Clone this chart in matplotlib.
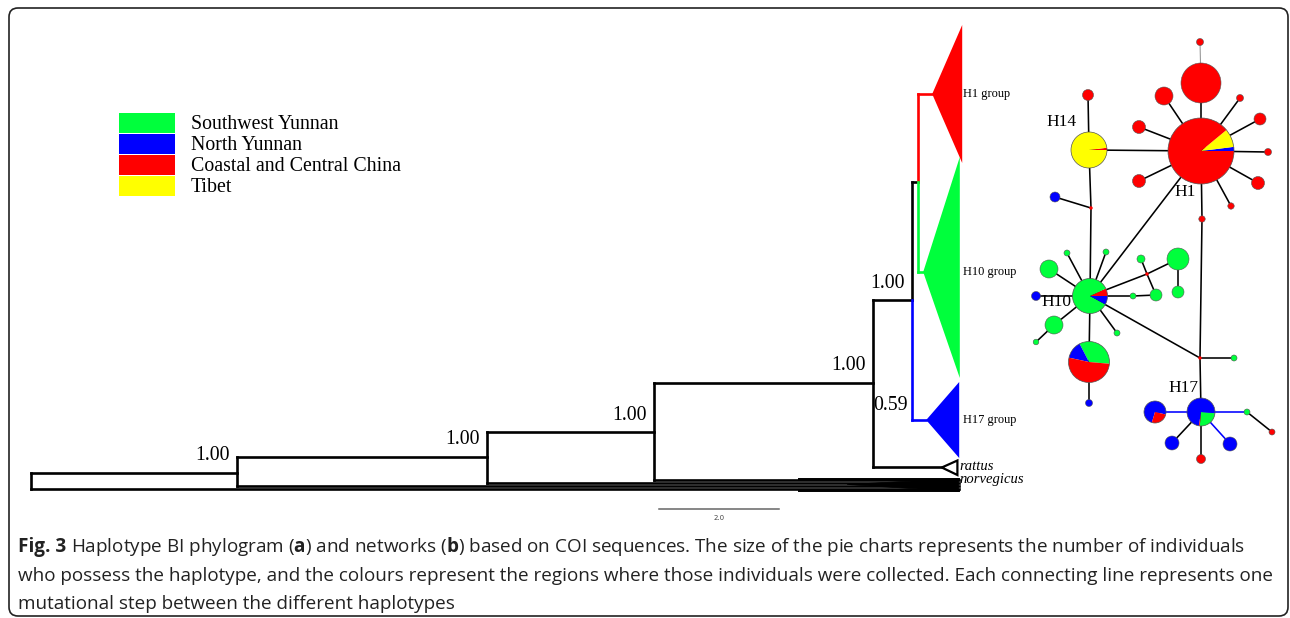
import matplotlib
matplotlib.use("Agg")
import matplotlib.pyplot as plt
from matplotlib.patches import Wedge, Polygon, Rectangle, FancyBboxPatch, Circle

W, H, DPI = 1290, 618, 100

# ---------------- data ----------------
regions = ["Southwest Yunnan", "North Yunnan", "Coastal and Central China", "Tibet"]
region_colors = ["#00FF3C", "#0000FF", "#FF0000", "#FFFF00"]
GREEN, BLUE, RED, YELLOW = region_colors

# Phylogram backbone (branch lengths in substitution units; scale bar = 2.0)
backbone_depth = [0.0, 3.43, 7.60, 10.38, 14.03]          # root .. node before rattus
backbone_top_y = [473, 457, 432, 383, 300]                 # row of upper child
backbone_bot_y = [489, 486, 483, 480, 467]                 # row of lower child
child_depth = [3.43, 7.60, 10.38, 14.03, 14.68]            # depth of upper child node
support = ["1.00", "1.00", "1.00", "1.00", "1.00"]

# ingroup nodes
n5_depth, n5_top, n5_bot = 14.68, 182, 420
n6_depth, n6_top, n6_bot = 14.78, 94, 272
h17_support = "0.59"

# collapsed clades: label, colour, attach row, tip depth, end depth, top, bottom
clade_names = ["H1 group", "H10 group", "H17 group"]
clade_colors = [RED, GREEN, BLUE]
clade_rows = [94, 272, 420]
clade_tip = [15.02, 14.87, 14.92]
clade_end = [15.52, 15.48, 15.47]
clade_top = [25, 157, 382]
clade_bot = [163, 378, 458]

scale_bar_len = 2.0

# Haplotype network: centre, radius, composition (region fractions) and start angle
hap_x = [1201, 1089, 1090, 1089, 1201, 1155]
hap_y = [151, 150, 296, 362, 412, 412]
hap_r = [33, 18, 17.5, 20.5, 14, 11]
hap_label = ["H1", "H14", "H10", "", "H17", ""]
# fractions in order [SW Yunnan, N Yunnan, Coastal/Central, Tibet]
hap_frac = [
    [0.00, 0.02, 0.89, 0.09],
    [0.00, 0.00, 0.02, 0.98],
    [0.85, 0.08, 0.07, 0.00],
    [0.34, 0.14, 0.52, 0.00],
    [0.25, 0.74, 0.01, 0.00],
    [0.00, 0.74, 0.26, 0.00],
]
# drawing order of slices (index into regions) and start angle (deg, ccw on screen)
hap_order = [[1, 3, 2], [2, 3], [2, 0, 1], [0, 1, 2], [0, 1, 2], [1, 2]]
hap_start = [0, 0, 0, -5, -95, -13]
hap_label_xy = [(1185, 192), (1062, 122), (1056, 302), None, (1183, 388), None]

# single-colour minor haplotypes
minor_x = [1200, 1201, 1164, 1240, 1260, 1139, 1268, 1139, 1258, 1231, 1202,
           1088, 1055, 1067, 1106, 1049, 1036, 1054, 1036, 1117, 1133, 1156,
           1141, 1178, 1178, 1089, 1234, 1247, 1272, 1172, 1230, 1201]
minor_y = [42, 83, 96, 98, 119, 127, 152, 181, 183, 206, 219,
           95, 197, 253, 252, 269, 296, 325, 342, 333, 296, 295,
           259, 259, 292, 403, 358, 412, 432, 443, 444, 459]
minor_r = [3.5, 20, 9, 3.5, 6, 6.5, 3.5, 6.5, 6.5, 3.2, 3.2,
           5.5, 5, 3, 3, 9, 4.5, 9, 2.8, 3, 3, 6,
           4, 11, 6, 3.5, 3, 3, 3, 7, 7, 4.5]
minor_col = [RED, RED, RED, RED, RED, RED, RED, RED, RED, RED, RED,
             RED, BLUE, GREEN, GREEN, GREEN, BLUE, GREEN, GREEN, GREEN, GREEN, GREEN,
             GREEN, GREEN, GREEN, BLUE, GREEN, GREEN, RED, BLUE, BLUE, RED]
# median vectors (missing haplotypes)
median_x = [1091, 1147, 1200]
median_y = [208, 274, 358]

# edges: (x1, y1, x2, y2, colour)
edges = [
    (1200, 42, 1201, 83, "#999999"),
    (1201, 83, 1201, 151, "k"),
    (1201, 151, 1164, 96, "k"), (1201, 151, 1240, 98, "k"), (1201, 151, 1260, 119, "k"),
    (1201, 151, 1139, 127, "k"), (1201, 151, 1268, 152, "k"), (1201, 151, 1139, 181, "k"),
    (1201, 151, 1258, 183, "k"), (1201, 151, 1231, 206, "k"),
    (1201, 151, 1089, 150, "k"),
    (1201, 151, 1202, 219, "k"), (1202, 219, 1200, 358, "k"),
    (1200, 358, 1201, 412, "k"), (1200, 358, 1090, 296, "k"), (1200, 358, 1234, 358, "k"),
    (1201, 151, 1090, 296, "k"),
    (1089, 150, 1088, 95, "k"), (1089, 150, 1091, 208, "k"),
    (1091, 208, 1055, 197, "k"), (1091, 208, 1090, 296, "k"),
    (1090, 296, 1067, 253, "k"), (1090, 296, 1106, 252, "k"), (1090, 296, 1049, 269, "k"),
    (1090, 296, 1036, 296, "k"), (1090, 296, 1054, 325, "k"), (1090, 296, 1117, 333, "k"),
    (1090, 296, 1089, 362, "k"), (1090, 296, 1133, 296, "k"), (1090, 296, 1147, 274, "k"),
    (1054, 325, 1036, 342, "k"), (1133, 296, 1156, 295, "k"),
    (1147, 274, 1141, 259, "k"), (1147, 274, 1178, 259, "k"), (1147, 274, 1156, 295, "k"),
    (1178, 259, 1178, 292, "k"), (1089, 362, 1089, 403, "k"),
    (1201, 412, 1155, 412, BLUE), (1201, 412, 1247, 412, BLUE),
    (1247, 412, 1272, 432, "k"), (1201, 412, 1172, 443, "k"),
    (1201, 412, 1230, 444, BLUE), (1201, 412, 1201, 459, "k"),
]

# ---------------- figure ----------------
fig = plt.figure(figsize=(W / DPI, H / DPI), dpi=DPI)
ax = fig.add_axes([0, 0, 1, 1])
ax.set_xlim(0, W)
ax.set_ylim(H, 0)
ax.axis("off")

PX_PER_UNIT = 60.0
X0 = 31.0
axt = fig.add_axes([0, 0, 1, 1])
axt.set_xlim(-X0 / PX_PER_UNIT, (W - X0) / PX_PER_UNIT)
axt.set_ylim(H, 0)
axt.axis("off")
axt.patch.set_alpha(0)

serif = ["Liberation Serif", "DejaVu Serif"]

# outer rounded frame
ax.add_patch(FancyBboxPatch((17, 16), 1263, 592, boxstyle="round,pad=8,rounding_size=9",
                            fc="none", ec="#222222", lw=1.2, zorder=1))

# ---------------- phylogram ----------------
LW = 1.9
tip_end = 15.46
for i, d in enumerate(backbone_depth):
    top, bot = backbone_top_y[i], backbone_bot_y[i]
    axt.plot([d, d], [top, bot], color="k", lw=LW, solid_capstyle="projecting")
    if i < 4:
        axt.plot([d, child_depth[i]], [top, top], color="k", lw=LW)
        axt.plot([d, tip_end], [bot, bot], color="k", lw=LW)
    else:
        axt.plot([d, n5_depth], [top, top], color="k", lw=LW)
        axt.plot([d, 15.18], [bot, bot], color="k", lw=LW)
    axt.text(child_depth[i] - 0.12, top - 17, support[i], ha="right", va="center",
             fontsize=14.3, family=serif)

# norvegicus collapsed clade (converging outgroup lines)
for yy in [478.5, 491]:
    axt.plot([12.8, tip_end], [yy, yy], color="k", lw=1.4)
axt.add_patch(Polygon([[13.6, 484.5], [tip_end, 478.5], [tip_end, 491.5]], closed=True,
                      fc="k", ec="k", lw=0.5))

# rattus collapsed clade (open triangle)
axt.add_patch(Polygon([[15.18, 467.5], [15.44, 460.5], [15.44, 475]], closed=True,
                      fc="white", ec="k", lw=1.6))

# n5
axt.plot([n5_depth, n5_depth], [n5_top, backbone_top_y[4]], color="k", lw=LW,
         solid_capstyle="projecting")
axt.plot([n5_depth, n5_depth], [backbone_top_y[4], n5_bot], color=BLUE, lw=LW)
axt.plot([n5_depth, n6_depth], [n5_top, n5_top], color="k", lw=LW)
axt.plot([n5_depth, clade_tip[2]], [n5_bot, n5_bot], color=BLUE, lw=LW)
axt.text(n5_depth - 0.07, n5_bot - 15, h17_support, ha="right", va="center",
         fontsize=14.3, family=serif)
# n6
axt.plot([n6_depth, n6_depth], [n6_top, n5_top], color=RED, lw=LW)
axt.plot([n6_depth, n6_depth], [n5_top, n6_bot], color=GREEN, lw=LW)
axt.plot([n6_depth, clade_tip[0]], [n6_top, n6_top], color=RED, lw=LW)
axt.plot([n6_depth, clade_tip[1]], [n6_bot, n6_bot], color=GREEN, lw=LW)

for i in range(3):
    axt.add_patch(Polygon([[clade_tip[i], clade_rows[i]], [clade_end[i], clade_top[i]],
                           [clade_end[i], clade_bot[i]]], closed=True,
                          fc=clade_colors[i], ec="none", zorder=3))
    axt.text(15.54, clade_rows[i], clade_names[i], ha="left", va="center",
             fontsize=8.9, family=serif)

axt.text(15.48, 466, "rattus", ha="left", va="center", fontsize=10.5,
         family=serif, style="italic")
axt.text(15.48, 479, "norvegicus", ha="left", va="center", fontsize=10.5,
         family=serif, style="italic")

# scale bar
sb0 = 10.47
axt.plot([sb0, sb0 + scale_bar_len], [509, 509], color="#666666", lw=1.1)
axt.text(sb0 + scale_bar_len / 2, 518, f"{scale_bar_len:.1f}", ha="center", va="center",
         fontsize=5, color="#444444")

# ---------------- legend ----------------
for i, (name, col) in enumerate(zip(regions, region_colors)):
    y0 = 113 + i * 21
    ax.add_patch(Rectangle((119, y0), 56, 19.5, fc=col, ec="none"))
    ax.text(191, y0 + 11.5, name, ha="left", va="center", fontsize=14.3, family=serif)

# ---------------- network ----------------
for x1, y1, x2, y2, c in edges:
    ax.plot([x1, x2], [y1, y2], color=c, lw=1.15 if c != "#999999" else 0.8, zorder=4,
            solid_capstyle="butt")

for x, y, r, c in zip(minor_x, minor_y, minor_r, minor_col):
    ax.add_patch(Circle((x, y), r, fc=c, ec="#555555", lw=0.4, zorder=6))
for x, y in zip(median_x, median_y):
    ax.add_patch(Circle((x, y), 1.7, fc=RED, ec="none", zorder=6))

for k in range(len(hap_x)):
    a = hap_start[k]
    for idx in hap_order[k]:
        span = hap_frac[k][idx] * 360
        if span <= 0:
            continue
        # screen angles (ccw) -> data angles with inverted y axis
        ax.add_patch(Wedge((hap_x[k], hap_y[k]), hap_r[k], -(a + span), -a,
                           fc=region_colors[idx], ec="none", zorder=6))
        a += span
    ax.add_patch(Circle((hap_x[k], hap_y[k]), hap_r[k], fc="none", ec="#555555",
                        lw=0.5, zorder=7))
    if hap_label_xy[k] is not None:
        ax.text(hap_label_xy[k][0], hap_label_xy[k][1], hap_label[k], ha="center",
                va="center", fontsize=12.5, family=serif, zorder=8)

# ---------------- caption ----------------
cap_font = "Open Sans"
plt.rcParams["mathtext.fontset"] = "custom"
plt.rcParams["mathtext.rm"] = cap_font
plt.rcParams["mathtext.bf"] = cap_font + ":bold"
cap_head = "Fig. 3"
cap_lines = [
    r"Haplotype BI phylogram ($\mathbf{a}$) and networks ($\mathbf{b}$) based on COI sequences. "
    r"The size of the pie charts represents the number of individuals",
    "who possess the haplotype, and the colours represent the regions where those individuals "
    "were collected. Each connecting line represents one",
    "mutational step between the different haplotypes",
]
cap_y = [547, 576, 604]
cap_x0 = 18
cap_target_right = 1243
CAP_COLOR = "#222222"
renderer = fig.canvas.get_renderer()


def text_width(s, size, weight="normal"):
    t = ax.text(0, 0, s, fontsize=size, family=cap_font, fontweight=weight)
    w = t.get_window_extent(renderer).width
    t.remove()
    return w


base = 13.0
space_w = text_width("n n", base) - text_width("nn", base)
total = text_width(cap_head, base, "bold") + space_w + text_width(cap_lines[0], base)
fs = base * (cap_target_right - cap_x0) / total
head_w = text_width(cap_head, fs, "bold")
space_w = text_width("n n", fs) - text_width("nn", fs)

ax.text(cap_x0, cap_y[0], cap_head, ha="left", va="center", fontsize=fs,
        family=cap_font, fontweight="bold", color=CAP_COLOR)
ax.text(cap_x0 + head_w + space_w, cap_y[0], cap_lines[0], ha="left", va="center",
        fontsize=fs, family=cap_font, color=CAP_COLOR)
for line, yy in zip(cap_lines[1:], cap_y[1:]):
    ax.text(cap_x0, yy, line, ha="left", va="center", fontsize=fs, family=cap_font,
            color=CAP_COLOR)

fig.savefig("out.png", dpi=DPI, facecolor="white")
